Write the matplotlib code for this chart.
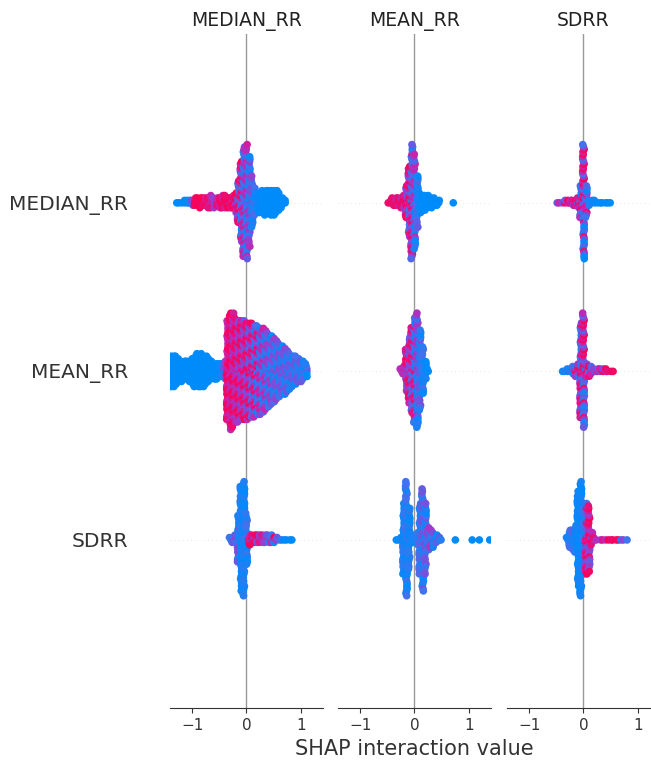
import numpy as np
import matplotlib.pyplot as plt
from matplotlib.colors import LinearSegmentedColormap

features = ["MEDIAN_RR", "MEAN_RR", "SDRR"]
xticks = [-1, 0, 1]
xlabel = "SHAP interaction value"

# every cell is a binned swarm: first bin centre, dots per bin, mean feature value per bin
BIN = 0.05

# row MEDIAN_RR
medr_medr_x0 = -1.30
medr_medr_n = [1, 1, 1, 2, 2, 2, 3, 4, 4, 5, 4, 4, 5, 6, 5, 4, 5, 6, 6, 5, 5, 6, 9,
               18, 34, 46, 48, 38, 22, 12, 8, 9, 10, 11, 10, 11, 11, 10, 8, 5, 2]
medr_medr_f = [0, 0, 0, 0, 0, 0.05, 0.3, 0.9, 0.95, 0.95, 0.95, 0.9, 0.9, 0.85, 0.7, 0.85,
               0.9, 0.9, 0.9, 0.9, 0.85, 0.85, 0.8, 0.6, 0.5, 0.45, 0.4, 0.35, 0.3, 0.15,
               0.05, 0.02, 0, 0, 0, 0, 0, 0, 0, 0, 0]

medr_mean_x0 = -0.50
medr_mean_n = [1, 2, 4, 4, 4, 5, 6, 14, 30, 48, 40, 22, 9, 7, 7, 6, 5, 4, 3, 2,
               0, 0, 0, 0, 1]
medr_mean_f = [0.95, 0.95, 0.95, 0.9, 0.9, 0.85, 0.8, 0.7, 0.6, 0.55, 0.4, 0.2, 0.05,
               0, 0, 0, 0, 0, 0, 0, 0, 0, 0, 0, 0]

medr_sdrr_x0 = -0.50
medr_sdrr_n = [1, 1, 1, 2, 2, 2, 3, 3, 5, 14, 48, 14, 3, 2, 2, 1, 1, 1, 1, 1, 1]
medr_sdrr_f = [0.7, 0.7, 0.75, 0.7, 0.7, 0.65, 0.6, 0.6, 0.55, 0.5, 0.5, 0.45, 0.2,
               0.1, 0.05, 0, 0, 0, 0, 0, 0]

# row MEAN_RR
mean_medr_x0 = -1.50
mean_medr_n = [13, 13, 13, 13, 12, 10, 9, 8, 8, 9, 11, 13, 14, 14, 13, 12, 10, 8, 7,
               7, 6, 6, 8, 40, 47, 46, 42, 41, 40, 40, 39, 38, 38, 37, 36, 35, 34,
               32, 30, 28, 26, 24, 22, 20, 19, 17, 15, 13, 12, 10, 9, 8, 6]
mean_medr_f = [0, 0, 0, 0, 0, 0, 0, 0, 0, 0, 0, 0, 0, 0, 0, 0, 0, 0, 0, 0, 0, 0.05,
               0.3, 0.85, 0.85, 0.8, 0.8, 0.75, 0.75, 0.7, 0.7, 0.65, 0.6, 0.55, 0.5,
               0.45, 0.4, 0.4, 0.35, 0.35, 0.3, 0.3, 0.3, 0.28, 0.28, 0.25, 0.25,
               0.25, 0.25, 0.25, 0.25, 0.25, 0.25]

mean_mean_x0 = -0.25
mean_mean_n = [2, 4, 18, 28, 36, 44, 48, 34, 20, 8, 2]
mean_mean_f = [0.8, 0.8, 0.75, 0.7, 0.6, 0.5, 0.35, 0.25, 0.15, 0.05, 0]

mean_sdrr_x0 = -0.40
mean_sdrr_n = [1, 1, 2, 2, 4, 5, 6, 40, 48, 6, 5, 4, 2, 2, 2, 2, 2, 1, 1, 1]
mean_sdrr_f = [0.05, 0.1, 0.1, 0.2, 0.3, 0.5, 0.55, 0.55, 0.55, 0.5, 0.55, 0.6, 0.7,
               0.7, 0.75, 0.75, 0.7, 0.7, 0.6, 0.6]

# row SDRR
sdrr_medr_x0 = -0.30
sdrr_medr_n = [2, 3, 4, 20, 44, 48, 22, 5, 4, 4, 4, 4, 4, 4, 4, 4, 3, 2, 1, 1, 1, 1,
               1, 1]
sdrr_medr_f = [0.5, 0.6, 0.6, 0.3, 0.1, 0.08, 0.15, 0.5, 0.7, 0.75, 0.7, 0.75, 0.75,
               0.7, 0.6, 0.6, 0.5, 0.4, 0.2, 0.1, 0, 0, 0, 0]

sdrr_mean_x0 = -0.35
sdrr_mean_n = [1, 1, 2, 30, 48, 26, 4, 3, 6, 30, 43, 30, 10, 8, 7, 4, 2, 1, 0, 0, 0,
               0, 1, 0, 0, 0, 0, 0, 1, 0, 0, 1, 0, 0, 0, 1]
sdrr_mean_f = [0, 0, 0.05, 0.1, 0.15, 0.1, 0.05, 0.05, 0.1, 0.2, 0.25, 0.25, 0.3, 0.35,
               0.35, 0.3, 0.2, 0.1, 0, 0, 0, 0, 0, 0, 0, 0, 0, 0, 0, 0, 0, 0, 0, 0,
               0, 0]

sdrr_sdrr_x0 = -0.30
sdrr_sdrr_n = [2, 8, 9, 12, 40, 48, 30, 30, 28, 6, 2, 1, 1, 1, 1, 1, 1, 1, 1, 1, 1,
               1, 1]
sdrr_sdrr_f = [0.1, 0.15, 0.2, 0.1, 0.05, 0.05, 0.1, 0.6, 0.7, 0.7, 0.8, 0.8, 0.8,
               0.8, 0.85, 0.9, 0.9, 0.85, 0.8, 0.6, 0.5, 0.4, 0.35]

cells = {
    ("MEDIAN_RR", "MEDIAN_RR"): (medr_medr_x0, medr_medr_n, medr_medr_f),
    ("MEDIAN_RR", "MEAN_RR"): (medr_mean_x0, medr_mean_n, medr_mean_f),
    ("MEDIAN_RR", "SDRR"): (medr_sdrr_x0, medr_sdrr_n, medr_sdrr_f),
    ("MEAN_RR", "MEDIAN_RR"): (mean_medr_x0, mean_medr_n, mean_medr_f),
    ("MEAN_RR", "MEAN_RR"): (mean_mean_x0, mean_mean_n, mean_mean_f),
    ("MEAN_RR", "SDRR"): (mean_sdrr_x0, mean_sdrr_n, mean_sdrr_f),
    ("SDRR", "MEDIAN_RR"): (sdrr_medr_x0, sdrr_medr_n, sdrr_medr_f),
    ("SDRR", "MEAN_RR"): (sdrr_mean_x0, sdrr_mean_n, sdrr_mean_f),
    ("SDRR", "SDRR"): (sdrr_sdrr_x0, sdrr_sdrr_n, sdrr_sdrr_f),
}

# red/blue map passing through violet
red_blue = LinearSegmentedColormap.from_list(
    "red_blue", ["#008bfb", "#3f74ee", "#7f4bdc", "#c425b0", "#ff0052"])

ROW_H = 0.4
MIX = [-1.0, 0.6, -0.3, 1.0, -0.7, 0.2, 0.8, -0.5, 0.0, 0.4, -0.9, 0.9]
AXIS_COLOR = "#333333"


def swarm(ax, ypos, x0, counts, feats):
    xs, ys, cs = [], [], []
    for b, (n, f) in enumerate(zip(counts, feats)):
        spread = min(f, 1 - f)
        for layer in range(n):
            k = (7 * layer + 5 * b) % len(MIX)
            xs.append(x0 + b * BIN + 0.3 * BIN * MIX[(k + 3) % len(MIX)])
            ys.append(np.ceil(layer / 2) * ((layer % 2) * 2 - 1))
            cs.append(f + spread * MIX[k])
    ys = np.array(ys)
    ys *= 0.9 * (ROW_H / np.max(ys + 1))
    ax.scatter(xs, ypos + ys, c=cs, cmap=red_blue, vmin=0, vmax=1, s=30,
               linewidth=0, zorder=3)


fig = plt.figure(figsize=(6.51, 7.67), dpi=100)
lefts = [0.2611, 0.5192, 0.7788]
rows = features[::-1]  # bottom to top

for i, col in enumerate(features):
    ax = fig.add_axes([lefts[i], 0.0763, 0.235, 0.879])
    ax.axvline(0, color="#999999", lw=1, zorder=-1)
    for pos, row in enumerate(rows):
        ax.axhline(pos, color="#cccccc", lw=0.5, dashes=(1, 5), zorder=-1)
        x0, n, f = cells[(row, col)]
        swarm(ax, pos, x0, n, f)

    ax.set_xlim(-1.41, 1.41)
    ax.set_ylim(-1, len(features))
    for side in ["top", "right", "left"]:
        ax.spines[side].set_visible(False)
    ax.spines["bottom"].set_color(AXIS_COLOR)
    ax.set_xticks(xticks)
    ax.tick_params("x", labelsize=11, color=AXIS_COLOR, labelcolor=AXIS_COLOR)
    ax.set_title(col, fontsize=13.5, color="#222222")
    if i == 0:
        ax.set_yticks(range(len(rows)))
        ax.set_yticklabels(rows, fontsize=14.5, color=AXIS_COLOR)
        ax.tick_params("y", length=0, pad=30)
    else:
        ax.set_yticks([])
    if i == 1:
        ax.set_xlabel(xlabel, fontsize=15, color=AXIS_COLOR)

fig.savefig("out.png", dpi=100)
